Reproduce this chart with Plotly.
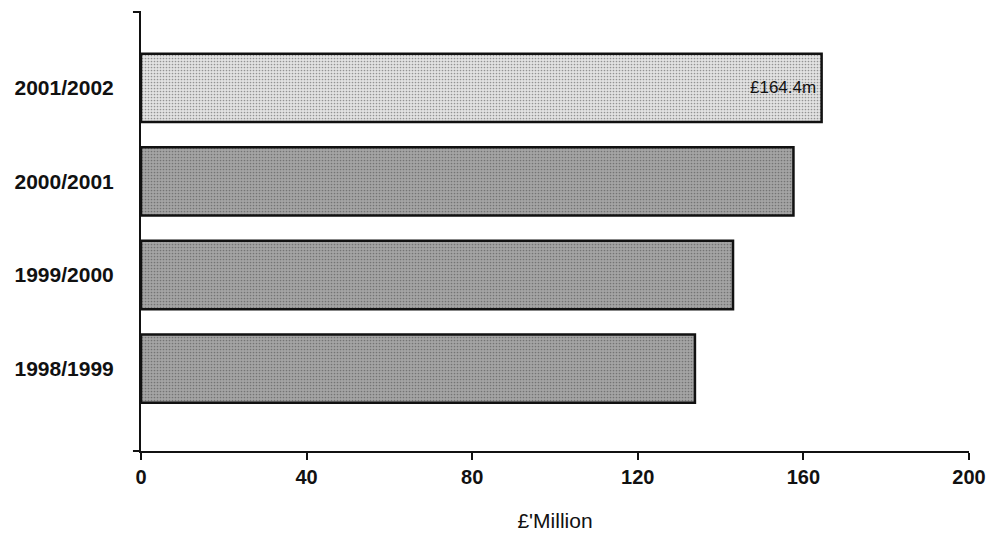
import plotly.graph_objects as go

# Annual totals, £ million
years = ["1998/1999", "1999/2000", "2000/2001", "2001/2002"]
values = [133.8, 143.0, 157.6, 164.4]
fills = ["#a4a4a4", "#a4a4a4", "#a4a4a4", "#e2e2e2"]
dots = ["#666666", "#666666", "#666666", "#a8a8a8"]
x_ticks = [0, 40, 80, 120, 160, 200]

positions = list(range(len(years)))

fig = go.Figure()
fig.add_trace(go.Bar(
    orientation="h",
    x=values,
    y=positions,
    width=0.73,
    marker=dict(
        color=fills,
        line=dict(color="#111111", width=2.5),
        pattern=dict(shape=".", fgcolor=dots, bgcolor=fills, size=3, solidity=0.25),
    ),
    hoverinfo="skip",
))

# Value label for the latest year, right-aligned inside its bar
fig.add_annotation(
    x=values[-1], y=positions[-1], xref="x", yref="y",
    text="£%.1fm" % values[-1], showarrow=False,
    xanchor="right", xshift=-4,
    font=dict(family="Liberation Sans, Arial", size=17, color="#111111"),
)

fig.update_layout(
    width=992,
    height=534,
    margin=dict(l=141, r=23, t=12, b=83, autoexpand=False),
    paper_bgcolor="white",
    plot_bgcolor="white",
    showlegend=False,
    font=dict(family="Liberation Sans, Arial", color="#111111"),
)

fig.update_xaxes(
    range=[0, 200],
    tickvals=x_ticks,
    ticktext=[str(v) for v in x_ticks],
    ticks="outside",
    ticklen=7,
    tickwidth=2,
    tickcolor="#111111",
    showline=True,
    linecolor="#111111",
    linewidth=2,
    showgrid=False,
    zeroline=False,
    automargin=False,
    tickfont=dict(family="Liberation Sans, Arial", size=20, color="#111111", weight="bold"),
    title=dict(text="£'Million", font=dict(family="Liberation Sans, Arial", size=21, color="#111111"), standoff=26),
)

fig.update_yaxes(
    range=[-0.88, 3.81],
    tickvals=positions,
    ticktext=years,
    ticks="",
    ticklabelstandoff=21,
    showline=True,
    linecolor="#111111",
    linewidth=2,
    showgrid=False,
    zeroline=False,
    automargin=False,
    tickfont=dict(family="Liberation Sans, Arial", size=21, color="#111111", weight="bold"),
)

# Small end ticks on the category axis
for yy in (0, 1):
    fig.add_shape(type="line", xref="paper", yref="paper",
                  x0=-0.0097, x1=0, y0=yy, y1=yy,
                  line=dict(color="#111111", width=2))

fig.write_html("out.html")
